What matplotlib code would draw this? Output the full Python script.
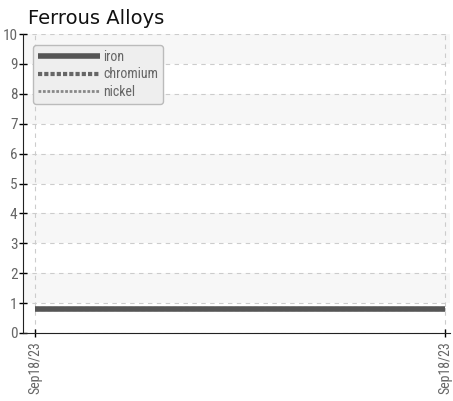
import matplotlib.pyplot as plt
from matplotlib import font_manager

dates = ["Sep18/23", "Sep18/23"]
iron = [0.8, 0.8]
chromium = [0.8, 0.8]
nickel = [0.8, 0.8]
yticks = list(range(0, 11))

fams = {(f.name, f.stretch) for f in font_manager.fontManager.ttflist}
tick_font, stretch = "DejaVu Sans", "normal"
for name in ["Roboto Condensed", "Liberation Sans Narrow", "Open Sans Condensed"]:
    if any(n == name for n, _ in fams):
        tick_font = name
        break
else:
    if ("DejaVu Sans", "condensed") in fams or ("DejaVu Sans", "semi-condensed") in fams:
        stretch = "condensed"
tprop = font_manager.FontProperties(family=tick_font, stretch=stretch, size=10)

fig = plt.figure(figsize=(4.53, 4.01), dpi=100)
ax = fig.add_axes([23/453, 68/401, 427/453, 299/401])

x = list(range(len(dates)))
for lo in range(1, 10, 2):
    ax.axhspan(lo, lo + 1, color="#f7f7f7", zorder=0, lw=0)

ax.plot(x, nickel, color="#888888", lw=2, ls=(0, (1, 0.6)), label="nickel", zorder=3)
ax.plot(x, chromium, color="#666666", lw=3, ls=(0, (1, 0.5)), label="chromium", zorder=3)
ax.plot(x, iron, color="#555555", lw=4, solid_capstyle="butt", label="iron", zorder=4)

ax.set_xlim(-0.029, 1.012)
ax.set_ylim(0, 10)
ax.set_yticks(yticks)
ax.set_xticks(x)
ax.set_xticklabels(dates, rotation=90, fontproperties=tprop, color="#666666")
ax.set_yticklabels([str(v) for v in yticks], fontproperties=tprop, color="#666666", fontsize=11)
ax.tick_params(axis="y", direction="inout", length=6, width=1, pad=1)
ax.tick_params(axis="x", direction="inout", length=6, width=1, pad=3)

ax.grid(True, ls=(0, (4, 4)), color="#cccccc", lw=0.8)
ax.set_axisbelow(True)
for s in ["top", "right"]:
    ax.spines[s].set_visible(False)
ax.spines["left"].set_color("#222222")
ax.spines["bottom"].set_color("#222222")

handles, labels = ax.get_legend_handles_labels()
order = [2, 1, 0]
lprop = font_manager.FontProperties(family=tick_font, stretch=stretch, size=10)
leg = ax.legend([handles[i] for i in order], [labels[i] for i in order],
                loc="upper left", bbox_to_anchor=(0.023, 0.963), handlelength=4.5,
                handletextpad=0.2, labelspacing=0.25, borderpad=0.35, borderaxespad=0,
                prop=lprop, labelcolor="#666666",
                fancybox=True, shadow=False, framealpha=1)
leg.get_frame().set_facecolor("#eeeeee")
leg.get_frame().set_edgecolor("#bbbbbb")

fig.text(28/453, 1 - 18/401, "Ferrous Alloys", fontsize=14, va="center", ha="left", color="#111111")

fig.savefig("out.png", dpi=100)
